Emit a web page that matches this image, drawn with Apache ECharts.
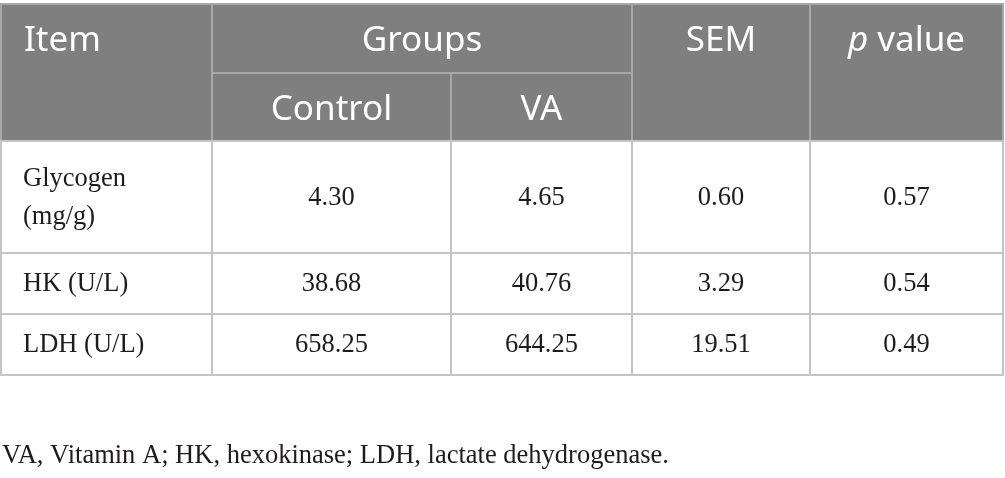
<!DOCTYPE html>
<html>
<head>
<meta charset="utf-8">
<script src="https://cdn.jsdelivr.net/npm/echarts@6/dist/echarts.min.js"></script>
<style>
  html, body { margin: 0; padding: 0; background: #ffffff; }
  #chart { width: 1005px; height: 478px; }
</style>
</head>
<body>
<div id="chart"></div>
<script>
// ---- data ----
const headerTop = ['Item', 'Groups', 'SEM', 'p value'];
const headerSub = ['Control', 'VA'];
const items = ['Glycogen\n(mg/g)', 'HK (U/L)', 'LDH (U/L)'];
const control = [4.30, 38.68, 658.25];
const va = [4.65, 40.76, 644.25];
const sem = [0.60, 3.29, 19.51];
const pValue = [0.57, 0.54, 0.49];
const footnote = 'VA, Vitamin A; HK, hexokinase; LDH, lactate dehydrogenase.';

// ---- layout (table grid edges in the hidden value axes' units) ----
const colEdges = [1, 212, 451, 632, 810, 1003];
const rowEdges = [4, 73, 141, 253, 314, 375, 435, 475];

const HEADER = 0, BODY = 1, NOTE = 2;
const cells = [];   // [c0, c1, r0, r1, textRow, kind, alignLeft]
const texts = [];
function addCell(c0, c1, r0, r1, tr, kind, left, text) {
  cells.push([c0, c1, r0, r1, tr, kind, left ? 1 : 0]);
  texts.push(text);
}
// header
addCell(0, 1, 0, 2, 0, HEADER, true, headerTop[0]);
addCell(1, 3, 0, 1, 0, HEADER, false, headerTop[1]);
addCell(1, 2, 1, 2, 1, HEADER, false, headerSub[0]);
addCell(2, 3, 1, 2, 1, HEADER, false, headerSub[1]);
addCell(3, 4, 0, 2, 0, HEADER, false, headerTop[2]);
addCell(4, 5, 0, 2, 0, HEADER, false, '{i|p}{n| value}');
// body
items.forEach((name, i) => {
  const r = 2 + i;
  addCell(0, 1, r, r + 1, r, BODY, true, name);
  addCell(1, 2, r, r + 1, r, BODY, false, control[i].toFixed(2));
  addCell(2, 3, r, r + 1, r, BODY, false, va[i].toFixed(2));
  addCell(3, 4, r, r + 1, r, BODY, false, sem[i].toFixed(2));
  addCell(4, 5, r, r + 1, r, BODY, false, pValue[i].toFixed(2));
});
// footnote
addCell(0, 5, 6, 7, 6, NOTE, true, footnote);

const headerFont = '"Noto Sans", "Open Sans", sans-serif';
const bodyFont = '"Liberation Serif", "DejaVu Serif", serif';

function renderItem(params, api) {
  const c0 = api.value(0), c1 = api.value(1), r0 = api.value(2), r1 = api.value(3);
  const tr = api.value(4), kind = api.value(5), left = api.value(6);
  const p0 = api.coord([colEdges[c0], rowEdges[r0]]);
  const p1 = api.coord([colEdges[c1], rowEdges[r1]]);
  const t0 = api.coord([colEdges[c0], rowEdges[tr]]);
  const t1 = api.coord([colEdges[c1], rowEdges[tr + 1]]);
  const children = [];
  if (kind !== NOTE) {
    children.push({
      type: 'rect',
      shape: { x: p0[0], y: p0[1], width: p1[0] - p0[0], height: p1[1] - p0[1] },
      style: {
        fill: kind === HEADER ? '#7f7f7f' : '#ffffff',
        stroke: kind === HEADER ? '#a8a8a8' : '#c4c4c4',
        lineWidth: 2
      }
    });
  }
  const isHeader = kind === HEADER;
  const fontSize = isHeader ? 35 : 26.5;
  const fontFamily = isHeader ? headerFont : bodyFont;
  const fill = isHeader ? '#ffffff' : '#1f1b1c';
  const pad = kind === NOTE ? 1 : (isHeader ? 23 : 22);
  children.push({
    type: 'text',
    style: {
      text: texts[params.dataIndex],
      x: left ? t0[0] + pad : (t0[0] + t1[0]) / 2,
      y: (t0[1] + t1[1]) / 2 + (isHeader ? 3 : 1),
      align: left ? 'left' : 'center',
      verticalAlign: 'middle',
      fontSize: fontSize,
      fontFamily: fontFamily,
      lineHeight: 38,
      fill: fill,
      rich: {
        i: { fontSize: fontSize, fontFamily: fontFamily, fontStyle: 'italic', fill: fill },
        n: { fontSize: fontSize, fontFamily: fontFamily, fill: fill }
      }
    }
  });
  return { type: 'group', children: children };
}

const chart = echarts.init(document.getElementById('chart'), null, { renderer: 'canvas' });
chart.setOption({
  animation: false,
  backgroundColor: '#ffffff',
  grid: { left: 0, right: 0, top: 0, bottom: 0, containLabel: false },
  xAxis: { type: 'value', min: 0, max: 1005, show: false },
  yAxis: { type: 'value', min: 0, max: 478, inverse: true, show: false },
  series: [{
    type: 'custom',
    coordinateSystem: 'cartesian2d',
    renderItem: renderItem,
    clip: false,
    data: cells
  }]
});
</script>
</body>
</html>
